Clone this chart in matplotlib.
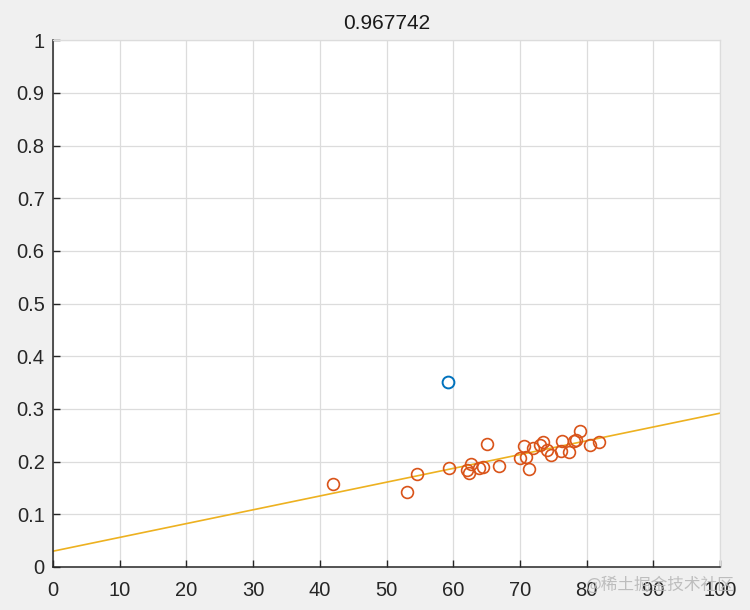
import numpy as np
import matplotlib
matplotlib.use('Agg')
import matplotlib.pyplot as plt

# Data
outlier_x = [59.2]
outlier_y = [0.351]

inlier_x = [42.0, 53.0, 54.5, 59.4, 62.0, 62.3, 62.6, 63.9, 64.5, 65.1,
            66.9, 70.0, 70.6, 70.9, 71.3, 72.0, 73.0, 73.4, 74.0, 74.6,
            76.3, 76.2, 77.4, 78.1, 78.4, 79.0, 80.5, 81.9]
inlier_y = [0.157, 0.142, 0.176, 0.188, 0.184, 0.179, 0.195, 0.187, 0.190, 0.233,
            0.192, 0.206, 0.230, 0.209, 0.186, 0.225, 0.231, 0.238, 0.222, 0.213,
            0.240, 0.220, 0.219, 0.240, 0.242, 0.259, 0.232, 0.237]

# Fitted line endpoints
line_x = [0, 100]
line_y = [0.030, 0.292]

title_text = '0.967742'
xticks = list(range(0, 101, 10))
yticks = [0, 0.1, 0.2, 0.3, 0.4, 0.5, 0.6, 0.7, 0.8, 0.9, 1]
ytick_labels = ['0', '0.1', '0.2', '0.3', '0.4', '0.5', '0.6', '0.7', '0.8', '0.9', '1']

plt.rcParams['font.family'] = ['Liberation Sans', 'DejaVu Sans']

fig = plt.figure(figsize=(7.5, 6.1), dpi=100, facecolor='#f0f0f0')
ax = fig.add_axes([0.0707, 0.0705, 0.8893, 0.8635])
ax.set_facecolor('white')

ax.plot(inlier_x, inlier_y, 'o', markerfacecolor='none', markeredgecolor='#D95319',
        markersize=8.5, markeredgewidth=1.2, zorder=3)
ax.plot(outlier_x, outlier_y, 'o', markerfacecolor='none', markeredgecolor='#0072BD',
        markersize=8.5, markeredgewidth=1.4, zorder=3)
ax.plot(line_x, line_y, color='#EDB120', linewidth=1.2, zorder=2)

ax.set_xlim(0, 100)
ax.set_ylim(0, 1)
ax.set_xticks(xticks)
ax.set_yticks(yticks)
ax.set_yticklabels(ytick_labels)
ax.tick_params(direction='in', length=5, width=1, labelsize=14.5, colors='#262626')
ax.tick_params(axis='x', pad=10)
ax.tick_params(axis='y', pad=6)
ax.grid(True, color='#dcdcdc', linewidth=0.9)
ax.set_axisbelow(True)

for side in ['top', 'right']:
    ax.spines[side].set_color('#dcdcdc')
    ax.spines[side].set_linewidth(0.9)
for side in ['left', 'bottom']:
    ax.spines[side].set_color('#262626')
    ax.spines[side].set_linewidth(1.1)

ax.set_title(title_text, fontsize=15, color='#1a1a1a', pad=8)

# watermark
fig.text(0.978, 0.027, '@稀土掘金技术社区', ha='right', va='bottom', fontsize=12,
         color='#b8b8b8', family=['Noto Sans CJK SC', 'DejaVu Sans'], alpha=0.9)

fig.savefig('out.png', dpi=100, facecolor=fig.get_facecolor())
